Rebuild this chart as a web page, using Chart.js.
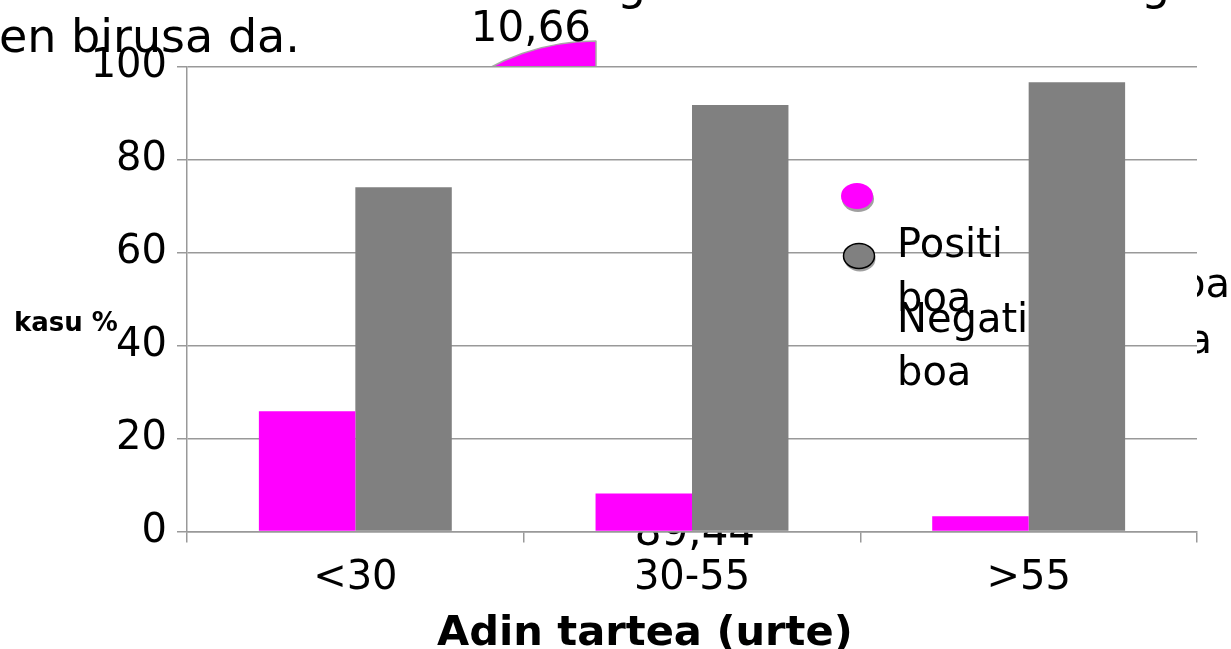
<!DOCTYPE html>
<html>
<head>
<meta charset="utf-8">
<script src="https://cdn.jsdelivr.net/npm/chart.js@4/dist/chart.umd.min.js"></script>
<style>
  html, body { margin: 0; padding: 0; background: #fff; }
  #wrap { position: relative; width: 1231px; height: 649px; overflow: hidden; background: #fff; }
  #wrap canvas { position: absolute; left: 0; top: 0; }
</style>
</head>
<body>
<div id="wrap">
  <canvas id="pie" width="1231" height="649"></canvas>
  <canvas id="bars" width="1231" height="649"></canvas>
</div>
<script>
// Age groups and share of cases (%) per result
const categories = ['<30', '30-55', '>55'];
const positiboa = [25.9, 8.2, 3.3];
const negatiboa = [74.1, 91.8, 96.7];
const seriesNames = ['Positiboa', 'Negatiboa'];
const legendLines = [['Positi', 'boa'], ['Negati', 'boa']];

// Value axis
const yMin = 0;
const yMax = 100;
const yStep = 20;

// Overall split shown by the pie behind the bars
const pieValues = [89.44, 10.66];

// Texts
const titleTail = 'en birusa da.';
const titleFragments = ['g', 'g'];
const pieLegendTail = ['boa', 'boa'];
const yAxisTitle = 'kasu %';
const xAxisTitle = 'Adin tartea (urte)';

const FONT = "'DejaVu Sans', sans-serif";
const PINK = '#ff00ff';
const GREY = '#808080';
const LINE = '#999999';

function fmt(v) { return v.toFixed(2).replace('.', ','); }

// ---- background layer: pie, its labels and the surrounding text ----
const pieDecor = {
  id: 'pieDecor',
  afterDraw(chart) {
    const ctx = chart.ctx;
    ctx.save();
    ctx.fillStyle = '#000';
    // title lines (the first one runs off the top)
    ctx.font = '46px ' + FONT;
    ctx.textAlign = 'left';
    ctx.textBaseline = 'alphabetic';
    ctx.fillText(titleTail, -1, 52);
    ctx.fillText(titleFragments[0], 617, -1);
    ctx.fillText(titleFragments[1], 1141, -1);

    // pie legend entries, mostly covered by the plot area
    ctx.font = '40px ' + FONT;
    ctx.textAlign = 'right';
    ctx.fillText(pieLegendTail[0], 1230, 297);
    ctx.fillText(pieLegendTail[1], 1212, 353);

    // slice value labels placed outside the pie along each slice's mid angle
    ctx.font = '42px ' + FONT;
    ctx.textAlign = 'center';
    ctx.textBaseline = 'middle';
    const meta = chart.getDatasetMeta(0);
    meta.data.forEach((arc, i) => {
      const p = arc.getProps(['x', 'y', 'startAngle', 'endAngle', 'outerRadius'], true);
      const mid = (p.startAngle + p.endAngle) / 2;
      const dx = Math.cos(mid), dy = Math.sin(mid);
      const dist = p.outerRadius + 42 + 16 * dy;
      ctx.fillText(fmt(pieValues[i]), p.x + dx * dist + 12 - 6 * dy, p.y + dy * dist + 2);
    });
    ctx.restore();
  }
};

new Chart(document.getElementById('pie'), {
  type: 'pie',
  data: {
    labels: seriesNames,
    datasets: [{
      data: pieValues,
      backgroundColor: ['rgba(0,0,0,0)', PINK],
      borderColor: ['rgba(0,0,0,0)', '#a8a8a8'],
      borderWidth: [0, 1.5],
      radius: 225
    }]
  },
  options: {
    responsive: false,
    animation: false,
    layout: { padding: { left: 0, right: 39, top: 0, bottom: 117 } },
    plugins: { legend: { display: false }, tooltip: { enabled: false } }
  },
  plugins: [pieDecor]
});

// ---- front layer: grouped bars ----
const plotBackground = {
  id: 'plotBackground',
  beforeDraw(chart) {
    const { ctx, chartArea: a } = chart;
    ctx.save();
    ctx.fillStyle = '#fff';
    ctx.fillRect(a.left, a.top, a.right - a.left, a.bottom - a.top);
    ctx.restore();
  }
};

const barDecor = {
  id: 'barDecor',
  afterDatasetsDraw(chart) {
    const ctx = chart.ctx;
    const ds = chart.data.datasets;
    ctx.save();
    // legend markers
    ctx.shadowColor = '#a0a0a0';
    ctx.shadowOffsetX = 1;
    ctx.shadowOffsetY = 3;
    ctx.shadowBlur = 0;
    ctx.fillStyle = ds[0].backgroundColor;
    ctx.beginPath();
    ctx.ellipse(857, 196, 16, 13, 0, 0, Math.PI * 2);
    ctx.fill();
    ctx.fillStyle = ds[1].backgroundColor;
    ctx.beginPath();
    ctx.ellipse(859, 256, 15.5, 12.5, 0, 0, Math.PI * 2);
    ctx.fill();
    ctx.shadowColor = 'rgba(0,0,0,0)';
    ctx.strokeStyle = '#000';
    ctx.lineWidth = 1.5;
    ctx.stroke();

    // legend texts
    ctx.fillStyle = '#000';
    ctx.font = '40px ' + FONT;
    ctx.textAlign = 'left';
    ctx.textBaseline = 'alphabetic';
    ctx.fillText(legendLines[0][0], 897, 257);
    ctx.fillText(legendLines[0][1], 897, 311);
    ctx.fillText(legendLines[1][0], 897, 332);
    ctx.fillText(legendLines[1][1], 897, 385);

    // axis titles
    ctx.font = 'bold 26px ' + FONT;
    ctx.fillText(yAxisTitle, 14, 331);
    ctx.font = 'bold 41.6px ' + FONT;
    ctx.fillText(xAxisTitle, 437, 645);
    ctx.restore();
  }
};

new Chart(document.getElementById('bars'), {
  type: 'bar',
  data: {
    labels: categories,
    datasets: [
      { label: seriesNames[0], data: positiboa, backgroundColor: PINK, borderWidth: 0,
        barPercentage: 1, categoryPercentage: 0.573 },
      { label: seriesNames[1], data: negatiboa, backgroundColor: GREY, borderWidth: 0,
        barPercentage: 1, categoryPercentage: 0.573 }
    ]
  },
  options: {
    responsive: false,
    animation: false,
    layout: { padding: { left: 0, right: 34, top: 67, bottom: 0 } },
    plugins: { legend: { display: false }, tooltip: { enabled: false } },
    scales: {
      x: {
        offset: true,
        grid: { offset: true, drawOnChartArea: false, drawTicks: true, tickLength: 11, color: LINE, lineWidth: 1.5 },
        border: { display: true, color: LINE, width: 1.5 },
        ticks: { color: '#000', font: { family: FONT, size: 40 }, padding: 12, maxRotation: 0, autoSkip: false },
        afterFit(scale) { scale.height = 117.5; }
      },
      y: {
        min: yMin,
        max: yMax,
        grid: { color: LINE, lineWidth: 1.5, tickLength: 10, drawTicks: true },
        border: { display: true, color: LINE, width: 1.5 },
        ticks: { stepSize: yStep, color: '#000', font: { family: FONT, size: 40 }, padding: 10 },
        afterFit(scale) { scale.width = 187; }
      }
    }
  },
  plugins: [plotBackground, barDecor]
});
</script>
</body>
</html>
